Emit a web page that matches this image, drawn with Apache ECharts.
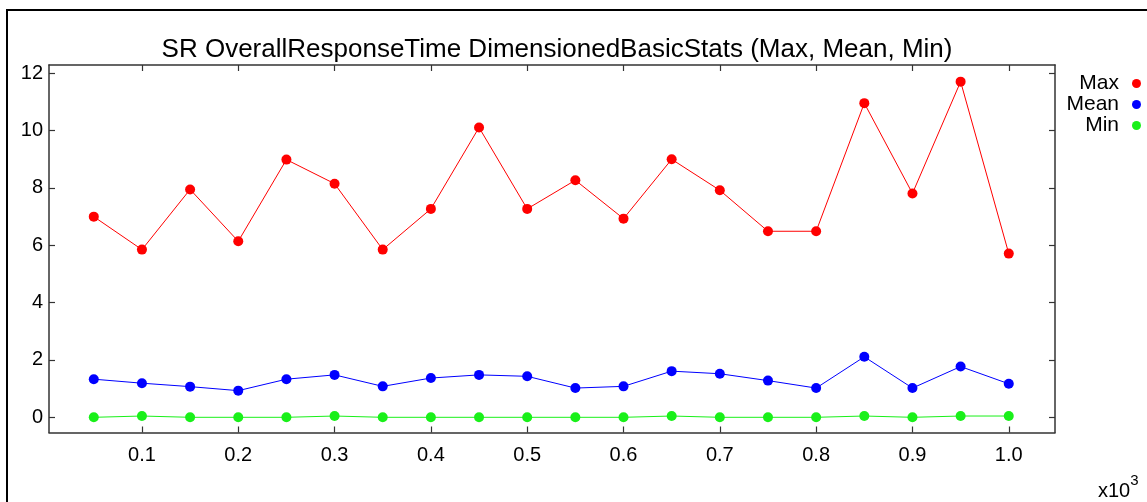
<!DOCTYPE html>
<html>
<head>
<meta charset="utf-8">
<script src="https://cdn.jsdelivr.net/npm/echarts@6/dist/echarts.min.js"></script>
<style>
html,body{margin:0;padding:0;background:#fff;}
#c{width:1147px;height:502px;}
</style>
</head>
<body>
<div id="c"></div>
<script>
const xValues = [0.05, 0.1, 0.15, 0.2, 0.25, 0.3, 0.35, 0.4, 0.45, 0.5, 0.55, 0.6, 0.65, 0.7, 0.75, 0.8, 0.85, 0.9, 0.95, 1.0];
const maxValues = [7.0, 5.85, 7.95, 6.14, 8.99, 8.15, 5.85, 7.27, 10.11, 7.27, 8.27, 6.93, 9.0, 7.92, 6.49, 6.49, 10.96, 7.81, 11.71, 5.71];
const meanValues = [1.33, 1.19, 1.07, 0.93, 1.33, 1.48, 1.08, 1.37, 1.48, 1.43, 1.02, 1.08, 1.61, 1.52, 1.28, 1.02, 2.11, 1.02, 1.77, 1.17];
const minValues = [0, 0.045, 0, 0, 0, 0.045, 0, 0, 0, 0, 0, 0, 0.045, 0, 0, 0, 0.045, 0, 0.045, 0.045];
const xTicks = [0.1, 0.2, 0.3, 0.4, 0.5, 0.6, 0.7, 0.8, 0.9, 1.0];
const yTicks = [0, 2, 4, 6, 8, 10, 12];
const seriesNames = ['Max', 'Mean', 'Min'];
const seriesColors = ['#ff0000', '#0000ff', '#19f019'];
const titleText = 'SR OverallResponseTime DimensionedBasicStats (Max, Mean, Min)';

const FONT = "'Liberation Sans', Arial, Helvetica, sans-serif";
const zip = (ys) => xValues.map((x, i) => [x, ys[i]]);
const allY = [maxValues, meanValues, minValues];

const axisLineStyle = { color: '#333', width: 1.5 };
function xAxisDef(pos, showLabel) {
  return {
    type: 'value', position: pos, min: 0.0035, max: 1.048,
    axisLine: { show: true, onZero: false, lineStyle: axisLineStyle },
    axisTick: { show: true, inside: true, length: 6, customValues: xTicks, lineStyle: { color: '#333', width: 1.2 } },
    axisLabel: { show: showLabel, customValues: xTicks, formatter: v => v.toFixed(1), color: '#000', fontSize: 20, fontFamily: FONT, margin: 13 },
    splitLine: { show: false }
  };
}
function yAxisDef(pos, showLabel) {
  return {
    type: 'value', position: pos, min: -0.53, max: 12.29,
    axisLine: { show: true, onZero: false, lineStyle: axisLineStyle },
    axisTick: { show: true, inside: true, length: 6, customValues: yTicks, lineStyle: { color: '#333', width: 1.2 } },
    axisLabel: { show: showLabel, customValues: yTicks, formatter: v => String(v), color: '#000', fontSize: 20, fontFamily: FONT, margin: 6 },
    splitLine: { show: false }
  };
}

const chart = echarts.init(document.getElementById('c'), null, { renderer: 'canvas' });
chart.setOption({
  animation: false,
  backgroundColor: '#fff',
  title: {
    text: titleText, left: 552, top: 32, textAlign: 'center',
    textStyle: { fontSize: 26, fontWeight: 'normal', color: '#000', fontFamily: FONT }
  },
  legend: {
    data: seriesNames, orient: 'vertical', align: 'right', right: 1, top: 68,
    icon: 'circle', itemWidth: 9, itemHeight: 9, itemGap: 0,
    textStyle: { fontSize: 21, color: '#000', fontFamily: FONT, padding: [0, 8, 0, 0] }
  },
  grid: { left: 49, top: 65, right: 92, bottom: 69.5, containLabel: false },
  xAxis: [xAxisDef('bottom', true), xAxisDef('top', false)],
  yAxis: [yAxisDef('left', true), yAxisDef('right', false)],
  graphic: [
    { type: 'rect', shape: { x: 7, y: 10, width: 1400, height: 700 }, style: { fill: 'none', stroke: '#000', lineWidth: 2 }, silent: true },
    { type: 'text', x: 1098, y: 473, style: { text: '{a|x10}{b|3}', rich: {
        a: { fontSize: 20, fontFamily: FONT, fill: '#000', verticalAlign: 'bottom', padding: [8, 0, 0, 0] },
        b: { fontSize: 15, fontFamily: FONT, fill: '#000', verticalAlign: 'top', padding: [0, 0, 8, 0] }
      } } }
  ],
  series: seriesNames.map((name, i) => ({
    name, type: 'line', xAxisIndex: 0, yAxisIndex: 0,
    data: zip(allY[i]),
    symbol: 'circle', symbolSize: 10, showAllSymbol: true,
    lineStyle: { color: seriesColors[i], width: 1 },
    itemStyle: { color: seriesColors[i] },
    emphasis: { disabled: true }
  }))
});
</script>
</body>
</html>
